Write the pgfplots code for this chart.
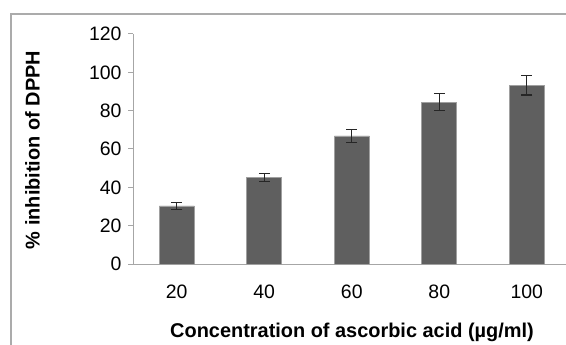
\documentclass[border=0pt]{standalone}
\usepackage{fontspec}
\setmainfont{Liberation Sans}
\usepackage{pgfplots}
\pgfplotsset{compat=1.18}
\definecolor{barfill}{HTML}{5F5F5F}
\definecolor{baredge}{HTML}{A0A0A0}
\definecolor{axgray}{HTML}{A6A6A6}
\definecolor{framegray}{HTML}{ABABAB}
\begin{document}
\begin{tikzpicture}
\path[use as bounding box] (0,0) rectangle (566bp,345bp);
\clip (0,0) rectangle (566bp,345bp);
\draw[framegray, line width=1.2bp] (11bp,-5bp) -- (11bp,331bp) -- (600bp,331bp);
\begin{axis}[
  at={(133bp,81bp)}, anchor=south west,
  scale only axis, width=437.5bp, height=230bp,
  xmin=-0.5, xmax=4.5, ymin=0, ymax=120,
  axis lines*=left,
  axis line style={axgray, line width=1bp},
  xtick={0,1,2,3,4},
  xticklabels={20,40,60,80,100},
  xtick style={draw=none},
  minor xtick={-0.5,0.5,1.5,2.5,3.5,4.5},
  minor tick style={axgray, line width=1bp},
  minor tick length=5bp,
  ytick={0,20,...,120},
  ytick style={axgray, line width=1bp},
  major tick length=5bp,
  tick align=outside,
  /pgf/number format/assume math mode=true,
  tick label style={font=\fontsize{19.5}{23}\selectfont, text=black},
  xticklabel style={yshift=-12bp},
  yticklabel style={xshift=-3bp},
  clip=false,
]
\addplot[ybar, bar width=35bp, fill=barfill, draw=baredge, line width=0.8bp,
  error bars/.cd, y dir=both, y explicit,
  error bar style={black!85, line width=1.3bp},
  error mark options={rotate=90, mark size=5.5bp, black!85, line width=1.3bp}]
  coordinates {
  (0,30.3) +- (0,1.8)
  (1,45.0) +- (0,2.1)
  (2,66.8) +- (0,3.4)
  (3,84.4) +- (0,4.4)
  (4,93.3) +- (0,5.2)
  };
\end{axis}
\node[font=\bfseries\fontsize{20}{24}\selectfont] at (352bp,13bp) {Concentration of ascorbic acid (µg/ml)};
\node[font=\bfseries\fontsize{20}{24}\selectfont, rotate=90] at (32.5bp,195bp) {\% inhibition of DPPH};
\end{tikzpicture}
\end{document}
